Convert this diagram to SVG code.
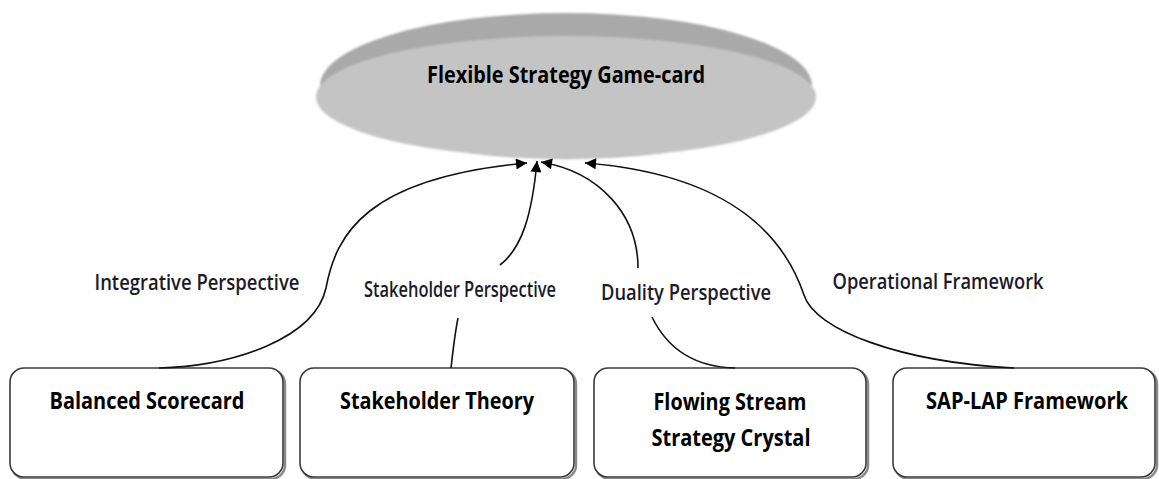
<svg xmlns="http://www.w3.org/2000/svg" width="1159" height="479" viewBox="0 0 1159 479">
  <defs>
    <marker id="arrow" viewBox="0 0 10 10" refX="10" refY="5" markerWidth="13" markerHeight="11" markerUnits="userSpaceOnUse" orient="auto">
      <path d="M0,0 L10,5 L0,10 Z" fill="#000"/>
    </marker>
    <filter id="soft" x="-5%" y="-10%" width="110%" height="120%">
      <feGaussianBlur stdDeviation="0.8"/>
    </filter>
  </defs>
  <style>
    .box { fill: #ffffff; stroke: #3a3a3a; stroke-width: 1.6; }
    .shadow { fill: none; stroke: #8a8a8a; stroke-width: 2.5; }
    .node-text { font-family: "Open Sans", "Liberation Sans", Arial, sans-serif; font-weight: 700; font-size: 23px; fill: #000; text-anchor: middle; }
    .label { font-family: "Open Sans", "Liberation Sans", Arial, sans-serif; font-weight: 600; font-size: 21px; fill: #1c1a2a; text-anchor: middle; }
    .link { fill: none; stroke: #111; stroke-width: 1.6; }
  </style>

  <rect width="1159" height="479" fill="#ffffff"/>

  <!-- top disc: rim behind, face in front -->
  <g id="node-gamecard">
    <g filter="url(#soft)">
      <ellipse cx="566" cy="86" rx="246" ry="73" fill="#a9a9a9"/>
      <ellipse cx="566" cy="97" rx="250" ry="61" fill="#c4c4c4"/>
    </g>
    <text class="node-text" x="566" y="83" textLength="278" lengthAdjust="spacingAndGlyphs">Flexible Strategy Game-card</text>
  </g>

  <!-- bottom boxes -->
  <g id="node-balanced-scorecard">
    <rect class="shadow" x="12" y="370" width="273" height="109" rx="14"/>
    <rect class="box" x="10" y="368" width="273" height="109" rx="14"/>
    <text class="node-text" x="147" y="409" textLength="195" lengthAdjust="spacingAndGlyphs">Balanced Scorecard</text>
  </g>

  <g id="node-stakeholder-theory">
    <rect class="shadow" x="302" y="370" width="274" height="109" rx="14"/>
    <rect class="box" x="300" y="368" width="274" height="109" rx="14"/>
    <text class="node-text" x="437" y="409" textLength="194" lengthAdjust="spacingAndGlyphs">Stakeholder Theory</text>
  </g>

  <g id="node-flowing-stream">
    <rect class="shadow" x="596" y="370" width="272" height="109" rx="14"/>
    <rect class="box" x="594" y="368" width="272" height="109" rx="14"/>
    <text class="node-text" x="730" y="410" textLength="153" lengthAdjust="spacingAndGlyphs">Flowing Stream</text>
    <text class="node-text" x="731" y="446" textLength="159" lengthAdjust="spacingAndGlyphs">Strategy Crystal</text>
  </g>

  <g id="node-sap-lap">
    <rect class="shadow" x="895" y="370" width="262" height="109" rx="14"/>
    <rect class="box" x="893" y="368" width="262" height="109" rx="14"/>
    <text class="node-text" x="1027" y="409" textLength="202" lengthAdjust="spacingAndGlyphs">SAP-LAP Framework</text>
  </g>

  <!-- connectors -->
  <g id="connectors">
    <path class="link" d="M159,368 C235,366 315,338 326,288 C336,235 365,178 527,163" marker-end="url(#arrow)"/>
    <path class="link" d="M451,368 C453,350 455,333 458,318"/>
    <path class="link" d="M500,265 C522,248 532,215 537,161" marker-end="url(#arrow)"/>
    <path class="link" d="M638,268 C638,215 600,172 541,162" marker-end="url(#arrow)"/>
    <path class="link" d="M652,317 C668,350 695,367 735,368"/>
    <path class="link" d="M1014,368 C900,362 815,330 804,295 C787,245 740,175 585,163" marker-end="url(#arrow)"/>
  </g>

  <!-- connector labels -->
  <g id="labels">
    <text class="label" x="197" y="290" textLength="205" lengthAdjust="spacingAndGlyphs">Integrative Perspective</text>
    <text class="label" x="460" y="297" textLength="192" lengthAdjust="spacingAndGlyphs">Stakeholder Perspective</text>
    <text class="label" x="686" y="300" textLength="170" lengthAdjust="spacingAndGlyphs">Duality Perspective</text>
    <text class="label" x="938" y="289" textLength="211" lengthAdjust="spacingAndGlyphs">Operational Framework</text>
  </g>
</svg>
